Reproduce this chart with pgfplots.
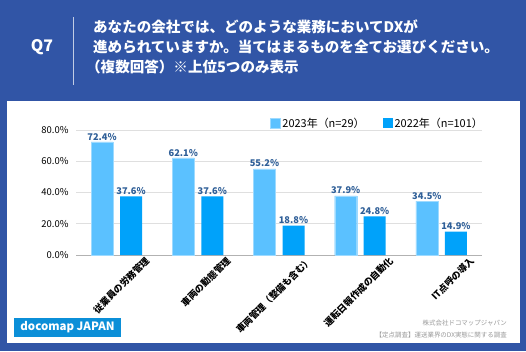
\documentclass[border=0pt]{standalone}
\usepackage{pgfplots}
\pgfplotsset{compat=1.18}
\usepackage{fontspec}
\setmainfont{Noto Sans CJK JP}
\definecolor{bgblue}{HTML}{3155A6}
\definecolor{lightbar}{HTML}{5BC1FF}
\definecolor{darkbar}{HTML}{00A2FA}
\definecolor{lbl}{HTML}{2F5F98}
\definecolor{logo}{HTML}{0B8FD8}
\begin{document}
\begin{tikzpicture}[x=1bp,y=1bp]
\fill[bgblue] (0,0) rectangle (526,351);
\fill[white] (7,8) rectangle (520,250);
% header
\node[text=white,font=\fontsize{16}{16}\selectfont\bfseries] at (42,304) {Q7};
\draw[white!70!bgblue,line width=0.8bp] (73,334) -- (73,266);
\node[anchor=west,text=white,font=\fontsize{14.6}{14.6}\selectfont\bfseries,inner sep=0] at (93,324) {あなたの会社では、どのような業務においてDXが};
\node[anchor=west,text=white,font=\fontsize{14.6}{14.6}\selectfont\bfseries,inner sep=0] at (93,304) {進められていますか。当てはまるものを全てお選びください。};
\node[anchor=west,text=white,font=\fontsize{14.6}{14.6}\selectfont\bfseries,inner sep=0] at (86,284) {（複数回答）※上位5つのみ表示};
% logo and footer
\fill[logo] (14,14) rectangle (121,33);
\node[text=white,font=\fontsize{11.5}{11.5}\selectfont\bfseries] at (67.5,23.5) {docomap JAPAN};
\node[anchor=east,text=gray!80,font=\fontsize{6.5}{6.5}\selectfont,inner sep=0] at (507,28) {株式会社ドコマップジャパン};
\node[anchor=east,text=gray!80,font=\fontsize{6.5}{6.5}\selectfont,inner sep=0] at (507,16) {【定点調査】運送業界のDX実態に関する調査};
\begin{axis}[
  at={(76bp,96bp)}, anchor=south west,
  scale only axis, width=406bp, height=125bp,
  xmin=-0.5, xmax=4.5, ymin=0, ymax=80,
  ybar, bar width=22bp,
  axis line style={draw=none},
  axis x line*=bottom,
  x axis line style={draw=gray!60,line width=0.8bp},
  ymajorgrids, grid style={draw=gray!25,line width=0.6bp},
  major tick length=0pt,
  ytick={0,20,40,60,80},
  yticklabel={\pgfmathprintnumber[fixed,fixed zerofill,precision=1]{\tick}\%},
  /pgf/number format/assume math mode=true,
  yticklabel style={font=\fontsize{9.5}{9.5}\selectfont,xshift=-4bp},
  xtick={0,1,2,3,4},
  xticklabels={従業員の労務管理,車両の動態管理,車両管理（整備も含む）,運転日報作成の自動化,IT点呼の導入},
  xticklabel style={font=\fontsize{9.3}{9.3}\selectfont\bfseries,xshift=31bp,yshift=-4bp,rotate=45,anchor=east,inner sep=0pt},
  nodes near coords={\pgfmathprintnumber[fixed,fixed zerofill,precision=1]{\pgfplotspointmeta}\%},
  nodes near coords style={font=\fontsize{9.3}{9.3}\selectfont\bfseries,text=lbl,inner sep=1.5bp},
  clip=false,
  legend columns=2,
  legend style={draw=none,fill=none,at={(1,1)},anchor=south east,font=\fontsize{11}{11}\selectfont,
    /tikz/every even column/.append style={column sep=16bp},inner sep=0pt,yshift=-1bp,xshift=3bp},
  legend image code/.code={\fill[#1] (0bp,-5bp) rectangle (10bp,5bp);},
]
\addplot[fill=lightbar,draw=lightbar!60!white,bar shift=-14.5bp] coordinates {(0,72.4) (1,62.1) (2,55.2) (3,37.9) (4,34.5)};
\addplot[fill=darkbar,draw=none,bar shift=14.5bp] coordinates {(0,37.6) (1,37.6) (2,18.8) (3,24.8) (4,14.9)};
\legend{2023年（n=29）,2022年（n=101）}
\end{axis}
\end{tikzpicture}
\end{document}
